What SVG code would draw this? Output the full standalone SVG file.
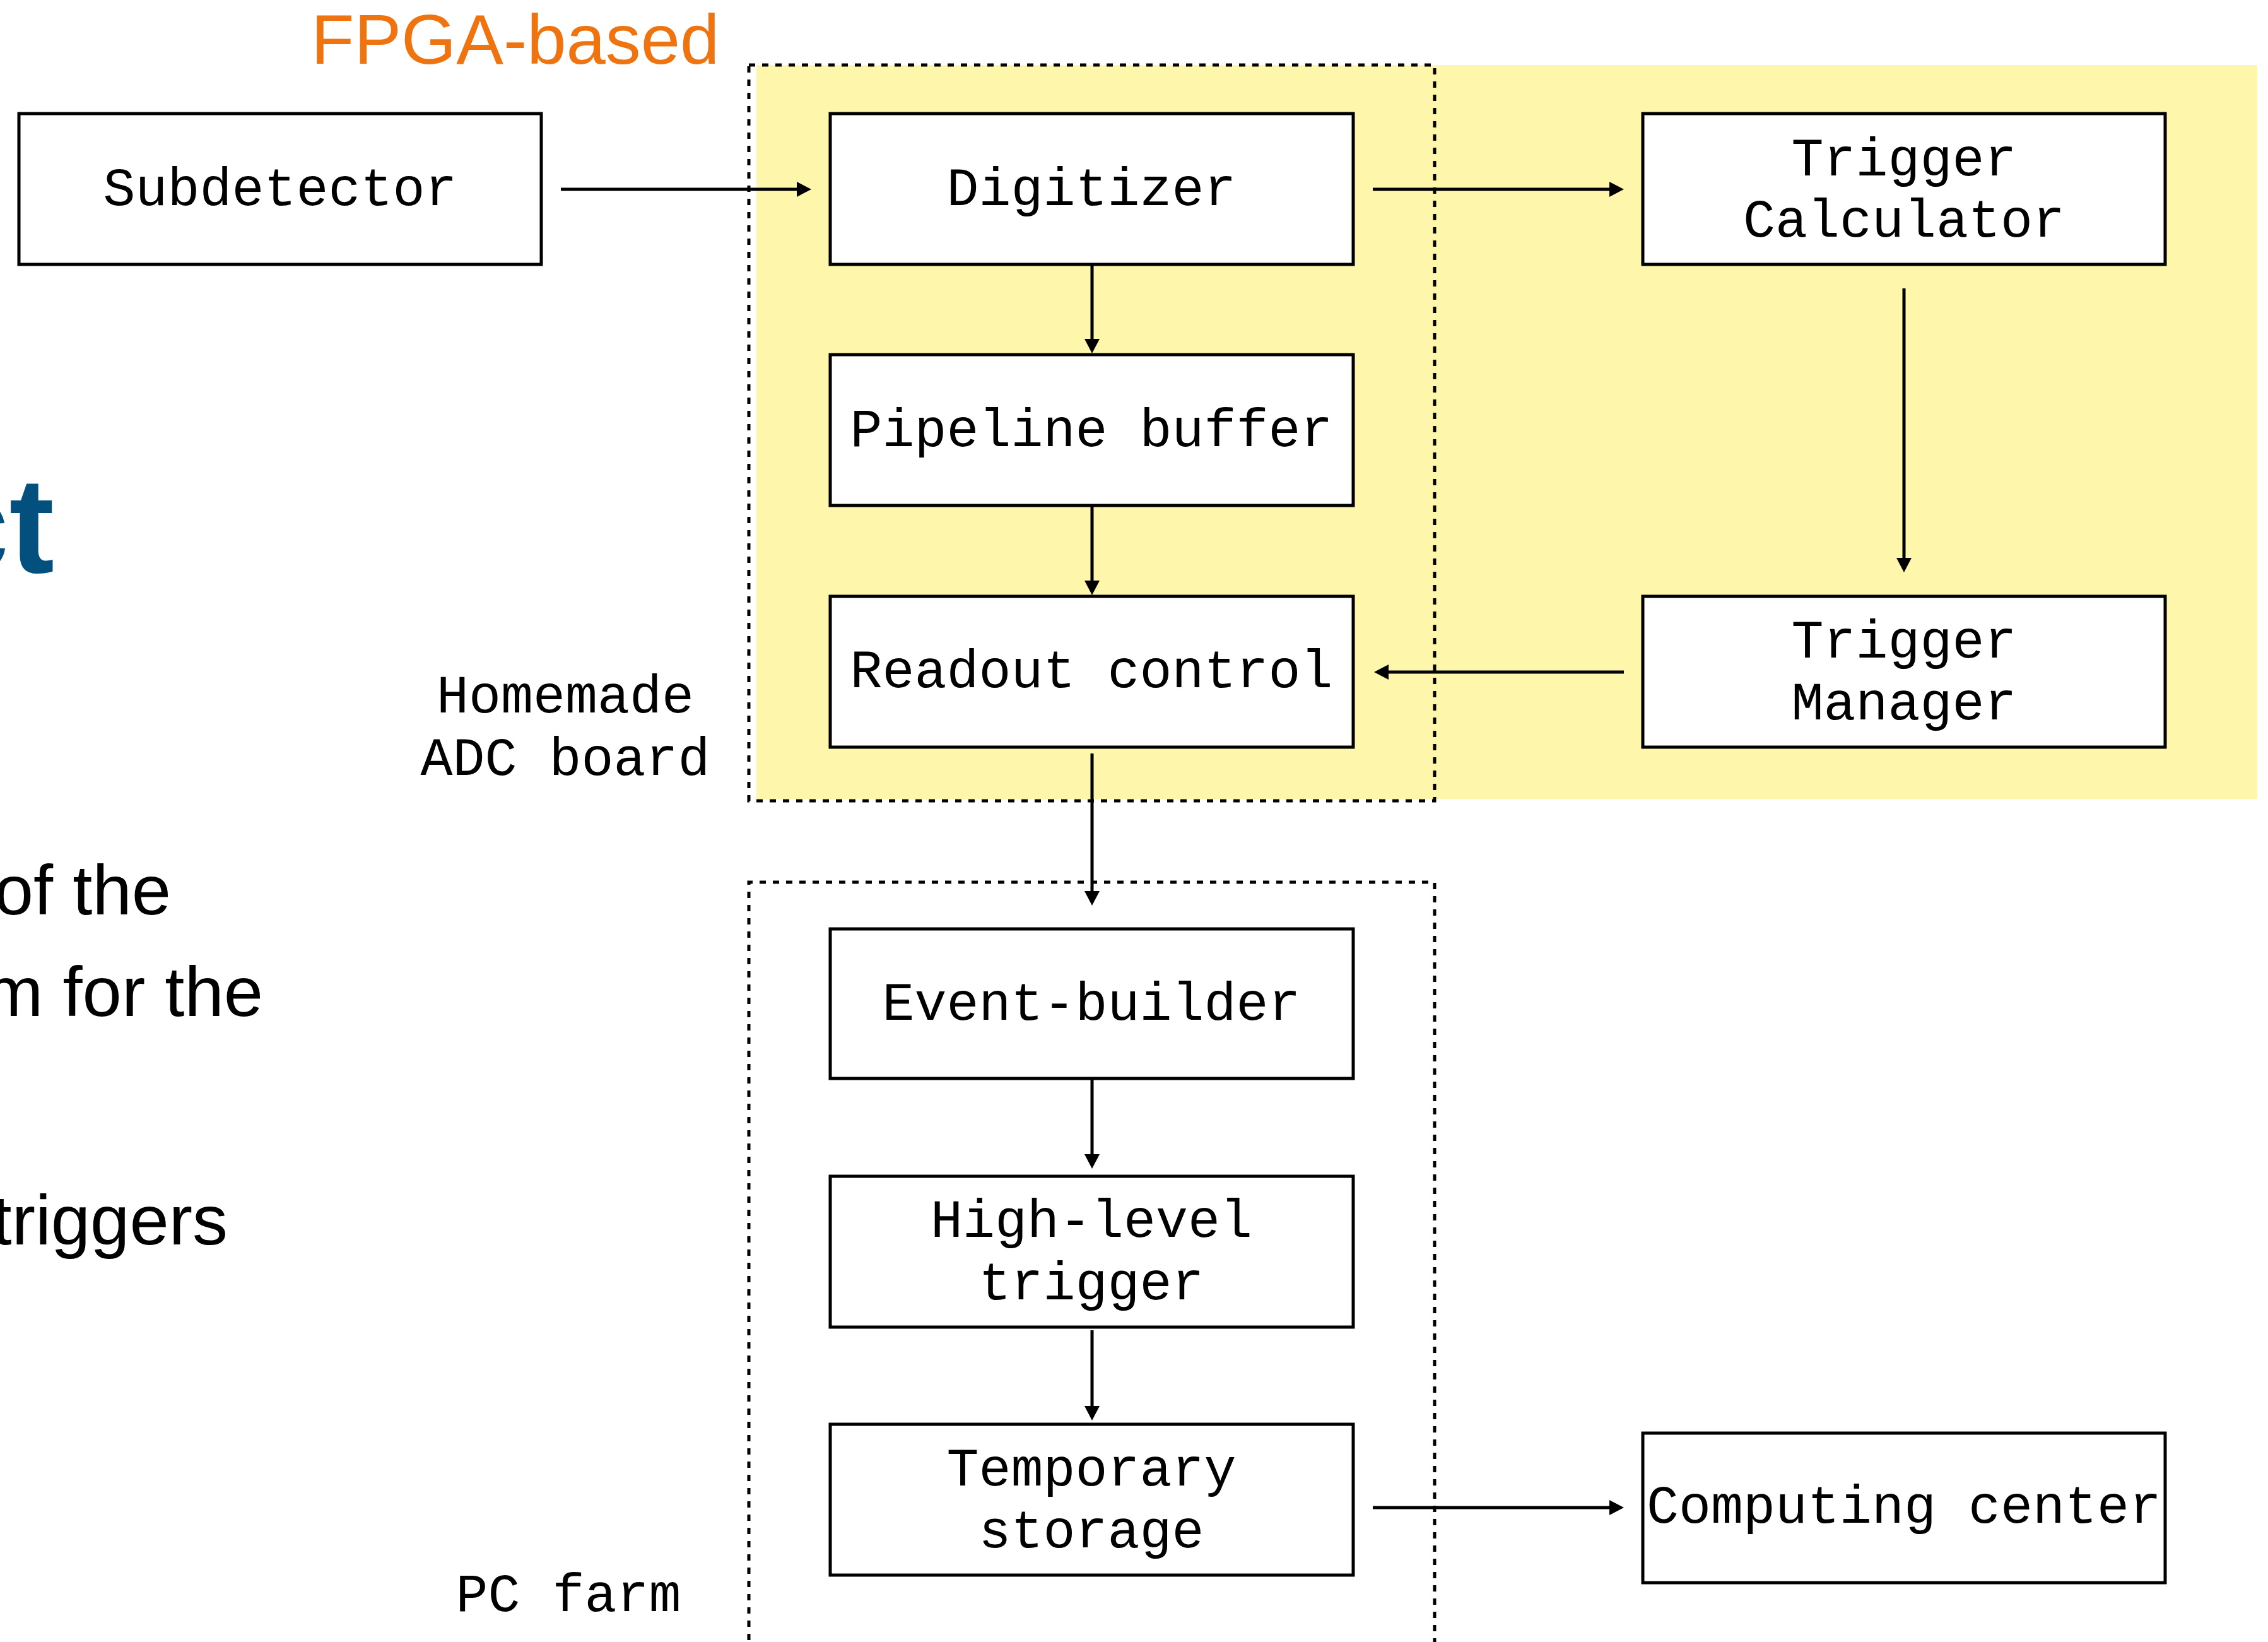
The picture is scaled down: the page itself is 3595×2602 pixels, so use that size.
<svg xmlns="http://www.w3.org/2000/svg" width="3595" height="2602" viewBox="0 0 3595 2602">
<style>
.box{fill:#fff;stroke:#000;stroke-width:5}
.lbl{font-family:"Liberation Mono","Courier New",monospace;font-size:85px;fill:#000;text-anchor:middle}
.grp{fill:none;stroke:#000;stroke-width:5;stroke-dasharray:10 11}
.con{fill:none;stroke:#000;stroke-width:5}
.body{font-family:"Liberation Sans",Arial,sans-serif;font-size:112px;fill:#000;text-anchor:end}
</style>
<defs>
<marker id="ah" markerUnits="userSpaceOnUse" markerWidth="23" markerHeight="24" refX="1" refY="12" orient="auto" viewBox="0 0 23 24">
<path d="M0,0 L23,12 L0,24 z" fill="#000"/>
</marker>
</defs>
<rect width="3595" height="2602" fill="#fff"/>
<g id="background">
<rect x="1199" y="103" width="2379" height="1163" fill="#FEF6AA"/>
<text x="493" y="101" font-family="'Liberation Sans',Arial,sans-serif" font-size="112" fill="#EF7410">FPGA-based</text>
<text x="86" y="907" font-family="'Liberation Sans',Arial,sans-serif" font-size="215" font-weight="bold" fill="#03507F" text-anchor="end">ct</text>
<text class="body" x="271" y="1449">of the</text>
<text class="body" x="417" y="1610">m for the</text>
<text class="body" x="361" y="1972">triggers</text>
</g>
<g id="group-adc">
<rect class="grp" x="1187" y="103" width="1087" height="1166"/>
<text class="lbl" x="896" y="1129">Homemade</text>
<text class="lbl" x="896" y="1228">ADC board</text>
</g>
<g id="group-pcfarm">
<path class="grp" d="M1187,2620 V1398 H2274 V2620"/>
<text class="lbl" x="901" y="2553">PC farm</text>
</g>
<g id="connectors">
<path class="con" d="M889,300 H1264" marker-end="url(#ah)"/>
<path class="con" d="M2176,300 H2552" marker-end="url(#ah)"/>
<path class="con" d="M2574,1065 H2200" marker-end="url(#ah)"/>
<path class="con" d="M2176,2389 H2552" marker-end="url(#ah)"/>
<path class="con" d="M1731,419 V538" marker-end="url(#ah)"/>
<path class="con" d="M1731,801 V921" marker-end="url(#ah)"/>
<path class="con" d="M1731,1194 V1413" marker-end="url(#ah)"/>
<path class="con" d="M1731,1709 V1830" marker-end="url(#ah)"/>
<path class="con" d="M1731,2108 V2229" marker-end="url(#ah)"/>
<path class="con" d="M3018,457 V885" marker-end="url(#ah)"/>
</g>
<g id="subdetector">
<rect class="box" x="30" y="180" width="828" height="239"/>
<text class="lbl" x="444" y="325">Subdetector</text>
</g>
<g id="digitizer">
<rect class="box" x="1316" y="180" width="829" height="239"/>
<text class="lbl" x="1730" y="325">Digitizer</text>
</g>
<g id="pipeline-buffer">
<rect class="box" x="1316" y="562" width="829" height="239"/>
<text class="lbl" x="1730" y="707">Pipeline buffer</text>
</g>
<g id="readout-control">
<rect class="box" x="1316" y="945" width="829" height="239"/>
<text class="lbl" x="1730" y="1089">Readout control</text>
</g>
<g id="trigger-calculator">
<rect class="box" x="2604" y="180" width="828" height="239"/>
<text class="lbl" x="3018" y="278">Trigger</text>
<text class="lbl" x="3018" y="375">Calculator</text>
</g>
<g id="trigger-manager">
<rect class="box" x="2604" y="945" width="828" height="239"/>
<text class="lbl" x="3018" y="1042">Trigger</text>
<text class="lbl" x="3018" y="1140">Manager</text>
</g>
<g id="event-builder">
<rect class="box" x="1316" y="1472" width="829" height="237"/>
<text class="lbl" x="1730" y="1616">Event-builder</text>
</g>
<g id="high-level-trigger">
<rect class="box" x="1316" y="1864" width="829" height="239"/>
<text class="lbl" x="1730" y="1960">High-level</text>
<text class="lbl" x="1730" y="2059">trigger</text>
</g>
<g id="temporary-storage">
<rect class="box" x="1316" y="2257" width="829" height="239"/>
<text class="lbl" x="1730" y="2354">Temporary</text>
<text class="lbl" x="1730" y="2452">storage</text>
</g>
<g id="computing-center">
<rect class="box" x="2604" y="2271" width="828" height="237"/>
<text class="lbl" x="3018" y="2413">Computing center</text>
</g>
</svg>
